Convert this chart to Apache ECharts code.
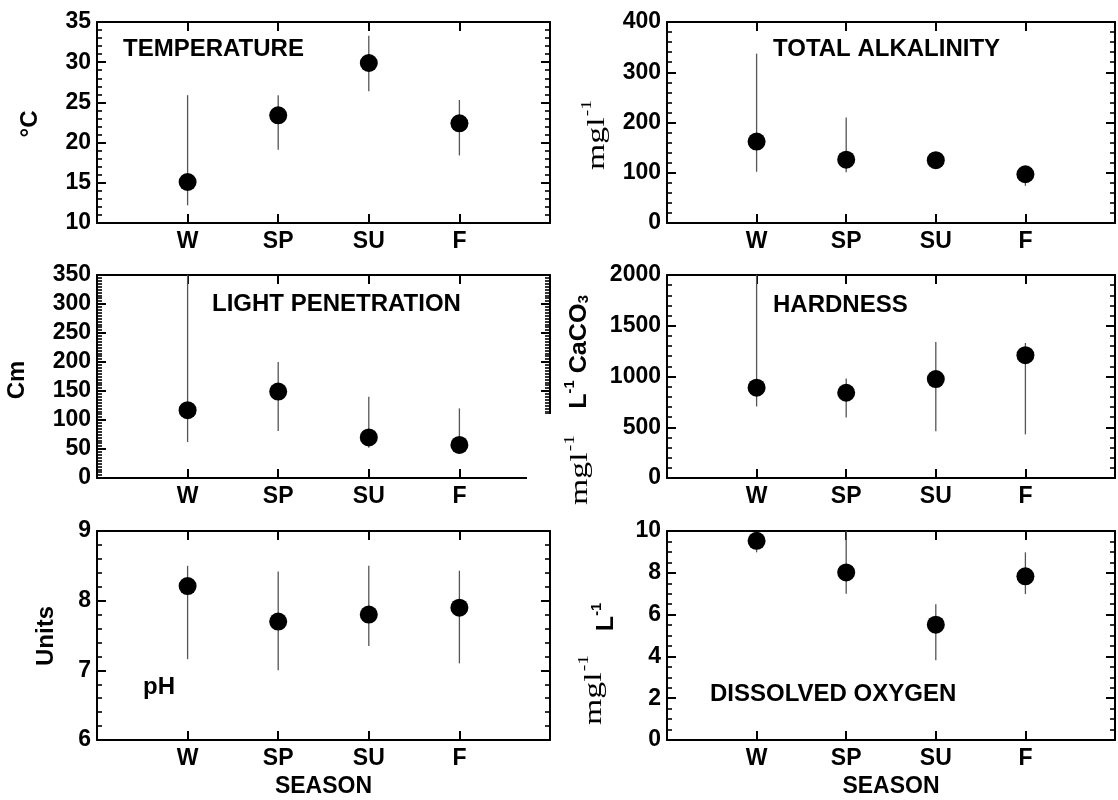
<!DOCTYPE html>
<html><head><meta charset="utf-8">
<script src="https://cdn.jsdelivr.net/npm/echarts/dist/echarts.min.js"></script>
<style>html,body{margin:0;padding:0;background:#fff}#c{width:1118px;height:800px}</style>
</head><body><div id="c"></div>
<script>
// ---- data ----
const categories = ['W', 'SP', 'SU', 'F'];
const axisCats = ['', 'W', 'SP', 'SU', 'F', ''];

const tempMean = [15.1, 23.4, 29.9, 22.4];
const tempHigh = [25.9, 25.9, 33.3, 25.3];
const tempLow  = [12.2, 19.1, 26.4, 18.4];

const alkMean = [162, 126, 125, 97];
const alkHigh = [337, 210, 138, 106];
const alkLow  = [102, 101, 110, 74];

const lightMean = [117, 149, 70, 57];
const lightHigh = [350, 200, 140, 120];
const lightLow  = [62, 81, 52, 42];

const hardMean = [890, 840, 975, 1210];
const hardHigh = [2000, 980, 1340, 1330];
const hardLow  = [705, 595, 460, 430];

const phMean = [8.21, 7.70, 7.80, 7.90];
const phHigh = [8.50, 8.42, 8.50, 8.43];
const phLow  = [7.16, 7.00, 7.35, 7.10];

const doMean = [9.53, 8.02, 5.52, 7.83];
const doHigh = [9.75, 10.0, 6.50, 8.98];
const doLow  = [8.98, 7.00, 3.81, 6.98];

// ---- layout ----
const SANS = 'Liberation Sans, Arial, sans-serif';
const SERIF = 'Liberation Serif, Times New Roman, serif';
const panels = [
  {mean: tempMean, high: tempHigh, low: tempLow, min: 10, max: 35, interval: 5, minor: 5, left: 97, top: 22, width: 453, height: 201},
  {mean: alkMean, high: alkHigh, low: alkLow, min: 0, max: 400, interval: 100, minor: 5, left: 667, top: 22, width: 454, height: 201},
  {mean: lightMean, high: lightHigh, low: lightLow, min: 0, max: 350, interval: 50, minor: 10, left: 97, top: 275, width: 453, height: 203},
  {mean: hardMean, high: hardHigh, low: hardLow, min: 0, max: 2000, interval: 500, minor: 5, left: 667, top: 275, width: 454, height: 203},
  {mean: phMean, high: phHigh, low: phLow, min: 6, max: 9, interval: 1, minor: 5, left: 97, top: 531, width: 453, height: 209, xName: 'SEASON'},
  {mean: doMean, high: doHigh, low: doLow, min: 0, max: 10, interval: 2, minor: 4, left: 667, top: 531, width: 454, height: 209, xName: 'SEASON'}
];

const grid = [], xAxis = [], yAxis = [], series = [];
const lineStyle = {color: '#000', width: 2};
panels.forEach((p, i) => {
  grid.push({left: p.left, top: p.top, width: p.width, height: p.height, containLabel: false});
  xAxis.push({
    type: 'category', data: axisCats, boundaryGap: false, gridIndex: i, position: 'bottom',
    axisLine: {show: true, onZero: false, lineStyle: lineStyle},
    axisTick: {show: true, inside: true, length: 9, interval: 0, lineStyle: lineStyle},
    axisLabel: {show: true, color: '#000', fontFamily: SANS, fontWeight: 'bold', fontSize: 23, margin: 7, interval: 0},
    splitLine: {show: false},
    name: p.xName || '', nameLocation: 'middle', nameGap: 35,
    nameTextStyle: {color: '#000', fontFamily: SANS, fontWeight: 'bold', fontSize: 23}
  });
  xAxis.push({
    type: 'category', data: axisCats, boundaryGap: false, gridIndex: i, position: 'top',
    axisLine: {show: true, onZero: false, lineStyle: lineStyle},
    axisTick: {show: true, inside: true, length: 9, interval: 0, lineStyle: lineStyle},
    axisLabel: {show: false}, splitLine: {show: false}
  });
  yAxis.push({
    type: 'value', gridIndex: i, position: 'left', min: p.min, max: p.max, interval: p.interval,
    axisLine: {show: true, onZero: false, lineStyle: lineStyle},
    axisTick: {show: true, inside: true, length: 9, lineStyle: lineStyle},
    minorTick: {show: true, splitNumber: p.minor, length: 5, lineStyle: {color: '#000', width: 1.6}},
    axisLabel: {show: true, color: '#000', fontFamily: SANS, fontWeight: 'bold', fontSize: 23, margin: 6,
                formatter: v => String(v)},
    splitLine: {show: false}, minorSplitLine: {show: false}
  });
  yAxis.push({
    type: 'value', gridIndex: i, position: 'right', min: p.min, max: p.max, interval: p.interval,
    axisLine: {show: true, onZero: false, lineStyle: lineStyle},
    axisTick: {show: true, inside: true, length: 9, lineStyle: lineStyle},
    minorTick: {show: true, splitNumber: p.minor, length: 5, lineStyle: {color: '#000', width: 1.6}},
    axisLabel: {show: false}, splitLine: {show: false}, minorSplitLine: {show: false}
  });
  series.push({
    type: 'custom', xAxisIndex: 2 * i, yAxisIndex: 2 * i, z: 2,
    data: categories.map((c, k) => [c, p.low[k], p.high[k]]),
    encode: {x: 0, y: [1, 2]},
    renderItem: function (params, api) {
      const x = api.value(0);
      const a = api.coord([x, api.value(1)]);
      const b = api.coord([x, api.value(2)]);
      return {type: 'line', shape: {x1: a[0], y1: a[1], x2: b[0], y2: b[1]},
              style: {stroke: '#555', lineWidth: 1.3}};
    }
  });
  series.push({
    type: 'scatter', xAxisIndex: 2 * i, yAxisIndex: 2 * i, z: 3,
    symbol: 'circle', symbolSize: 18, itemStyle: {color: '#000', opacity: 1},
    data: categories.map((c, k) => [c, p.mean[k]])
  });
});

function title(text, x, y) {
  return {type: 'text', x: x, y: y, z: 60,
    style: {text: text, font: 'bold 24px ' + SANS, fill: '#000', verticalAlign: 'middle', align: 'left'}};
}
function vname(text, x, y) {
  return {type: 'text', x: x, y: y, rotation: Math.PI / 2, z: 60,
    style: {text: text, font: 'bold 24px ' + SANS, fill: '#000', align: 'center', verticalAlign: 'middle'}};
}
const serifRich = {
  a: {fontFamily: SERIF, fontSize: 26, lineHeight: 30, verticalAlign: 'bottom'},
  s: {fontFamily: SERIF, fontSize: 15, lineHeight: 30, verticalAlign: 'top', padding: [0, 0, 0, 1]}
};
const sansRich = {
  b: {fontFamily: SANS, fontWeight: 'bold', fontSize: 24, lineHeight: 28, verticalAlign: 'bottom'},
  s: {fontFamily: SANS, fontWeight: 'bold', fontSize: 14, lineHeight: 28, verticalAlign: 'top'},
  d: {fontFamily: SANS, fontWeight: 'bold', fontSize: 14, lineHeight: 22, verticalAlign: 'bottom'}
};
function richName(text, rich, x, y, sx) {
  return {type: 'text', x: x, y: y, rotation: Math.PI / 2, scaleX: sx || 1, z: 60,
    style: {text: text, rich: rich, fill: '#000', align: 'center', verticalAlign: 'middle'}};
}

const graphic = [
  {type: 'rect', shape: {x: 527, y: 414, width: 36, height: 76}, style: {fill: '#fff'}, z: 55},
  title('TEMPERATURE', 123, 49),
  title('LIGHT PENETRATION', 212, 304),
  title('pH', 143, 687),
  title('TOTAL ALKALINITY', 773, 49),
  title('HARDNESS', 773, 305),
  title('DISSOLVED OXYGEN', 710, 694),
  vname('°C', 30, 124),
  vname('Cm', 17, 380),
  vname('Units', 46, 636),
  richName('{a|mgl}{s|-1}', serifRich, 595, 135, 1.3),
  richName('{a|mgl}{s|-1}', serifRich, 578, 470, 1.3),
  richName('{b|L}{s|-1}{b| CaCO}{d|3}', sansRich, 577, 352, 1.05),
  richName('{a|mgl}{s|-1}', serifRich, 592, 690, 1.3),
  richName('{b|L}{s|-1}', sansRich, 604, 617, 1.05)
];

const chart = echarts.init(document.getElementById('c'), null, {renderer: 'canvas'});
chart.setOption({
  backgroundColor: '#fff', animation: false,
  grid: grid, xAxis: xAxis, yAxis: yAxis, series: series, graphic: graphic
});
</script>
</body></html>
